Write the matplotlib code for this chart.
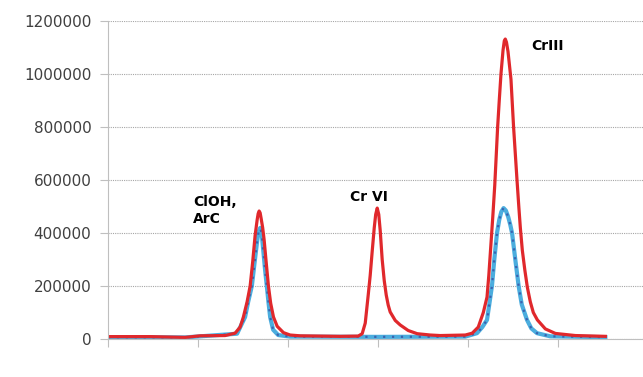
import matplotlib.pyplot as plt

# 1 - Data (x in tick units, y in counts)

x_red = [0.0, 0.467, 0.856, 1.022, 1.3, 1.411, 1.467, 1.503, 1.544, 1.578, 1.606,
         1.633, 1.656, 1.667, 1.678, 1.689, 1.7, 1.717, 1.733, 1.756, 1.781, 1.806,
         1.837, 1.878, 1.948, 2.022, 2.133, 2.578, 2.778, 2.822, 2.856, 2.889,
         2.911, 2.933, 2.956, 2.972, 2.989, 3.006, 3.022, 3.044, 3.067, 3.089,
         3.111, 3.133, 3.189, 3.244, 3.333, 3.433, 3.578, 3.689, 3.967, 4.044,
         4.111, 4.167, 4.208, 4.228, 4.25, 4.272, 4.294, 4.326, 4.344, 4.363,
         4.386, 4.4, 4.411, 4.424, 4.441, 4.474, 4.503, 4.541, 4.561, 4.578,
         4.6, 4.628, 4.656, 4.689, 4.722, 4.767, 4.856, 4.967, 5.189, 5.522]
y_red = [9000, 9000, 6000, 12000, 13000, 22000, 45000, 83000, 140000, 200000, 290000,
         390000, 450000, 473000, 483000, 476000, 455000, 420000, 375000, 290000, 200000, 135000,
         83000, 48000, 24000, 15000, 12000, 10000, 11000, 20000, 60000, 166000,
         240000, 330000, 420000, 470000, 494000, 470000, 410000, 300000, 220000, 166000,
         128000, 102000, 70000, 53000, 32000, 20000, 15000, 13000, 15000, 22000,
         45000, 100000, 158000, 240000, 350000, 460000, 580000, 800000, 900000, 1000000,
         1090000, 1125000, 1132000, 1120000, 1085000, 980000, 800000, 600000, 500000, 420000,
         335000, 260000, 195000, 140000, 100000, 72000, 38000, 21000, 13000, 10000]

x_blue = [0.0, 0.856, 1.022, 1.433, 1.522, 1.556, 1.597, 1.628, 1.656, 1.672, 1.689,
          1.706, 1.722, 1.744, 1.763, 1.781, 1.8, 1.833, 1.889, 2.022, 3.0, 3.967,
          4.097, 4.156, 4.208, 4.233, 4.263, 4.289, 4.319, 4.344, 4.367, 4.392,
          4.417, 4.444, 4.467, 4.486, 4.522, 4.559, 4.594, 4.652, 4.7, 4.763,
          4.911, 5.522]
y_blue = [7000, 6000, 10000, 20000, 83000, 140000, 200000, 290000, 370000, 405000, 419000,
          400000, 340000, 260000, 200000, 140000, 83000, 35000, 15000, 9000, 8000, 9000,
          22000, 45000, 72000, 130000, 200000, 300000, 400000, 450000, 480000, 494000,
          485000, 460000, 430000, 400000, 300000, 200000, 130000, 72000, 40000, 22000,
          10000, 7000]

y_ticks = [0, 200000, 400000, 600000, 800000, 1000000, 1200000]

# 2 - Plot

fig = plt.figure(figsize=(6.43, 3.77), dpi=100)
ax = fig.add_axes([0.168, 0.1008, 0.832, 0.8435])

ax.plot(x_blue, y_blue, color='#4badde', lw=3, solid_joinstyle='round')
ax.plot(x_blue, y_blue, color='#3a62b0', lw=1.6, ls=(0, (1, 3)))
ax.plot(x_red, y_red, color='#e0282c', lw=2.3, solid_joinstyle='round')

ax.text(0.944, 545000, 'ClOH,\nArC', fontsize=10, fontweight='bold', va='top',
        linespacing=1.35)
ax.text(2.689, 536000, 'Cr VI', fontsize=10, fontweight='bold', va='center')
ax.text(4.7, 1106000, 'CrIII', fontsize=10, fontweight='bold', va='center')

ax.set_xlim(0, 5.94)
ax.set_ylim(0, 1200000)
ax.set_yticks(y_ticks)
ax.set_yticklabels([str(v) for v in y_ticks])
ax.set_xticks([0, 1, 2, 3, 4, 5])
ax.set_xticklabels([])

ax.grid(axis='y', color='#a6a6a6', ls=(0, (1, 1)), lw=0.8)
ax.set_axisbelow(True)
for s in ['top', 'right']:
    ax.spines[s].set_visible(False)
for s in ['left', 'bottom']:
    ax.spines[s].set_color('#bfbfbf')
ax.tick_params(axis='both', colors='#bfbfbf', length=6, labelcolor='#404040',
               labelsize=11)
ax.tick_params(axis='y', pad=6)

plt.savefig('out.png', dpi=100)
